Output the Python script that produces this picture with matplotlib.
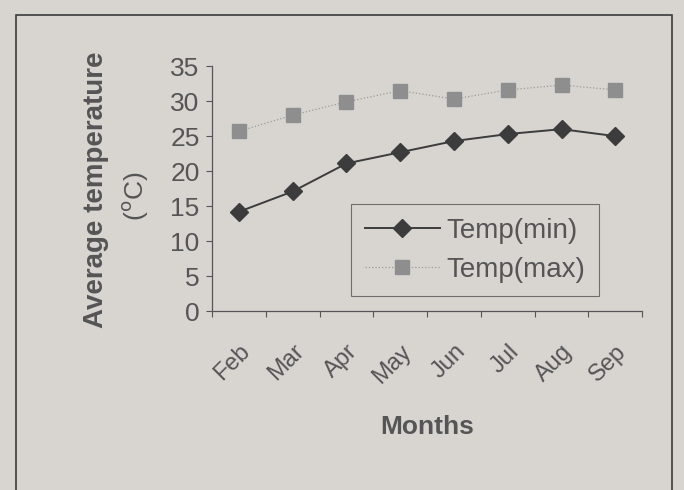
import matplotlib
matplotlib.use("Agg")
import matplotlib.pyplot as plt
from matplotlib.patches import Rectangle

plt.rcParams['font.family'] = ['Liberation Sans', 'DejaVu Sans']

months = ['Feb', 'Mar', 'Apr', 'May', 'Jun', 'Jul', 'Aug', 'Sep']
temp_min = [14.2, 17.1, 21.1, 22.7, 24.3, 25.3, 26.0, 25.0]
temp_max = [25.7, 28.0, 29.9, 31.5, 30.3, 31.6, 32.3, 31.6]

bg = '#d8d5d1'
txt = '#555555'
fig = plt.figure(figsize=(6.84, 4.90), dpi=100, facecolor=bg)
ax = fig.add_axes([0.31, 0.365, 0.629, 0.5])
ax.set_facecolor(bg)

# outer chart frame like the printed figure
fig.patches.append(Rectangle((0.023, -0.05), 0.96, 1.02, transform=fig.transFigure,
                             fill=False, edgecolor='#3a3a3a', linewidth=1.2))

x = list(range(len(months)))
ax.plot(x, temp_min, color='#3c3c3c', linewidth=1.4, marker='D', markersize=9,
        markerfacecolor='#3c3c3c', markeredgecolor='#3c3c3c', label='Temp(min)')
ax.plot(x, temp_max, color='#9a9a9a', linewidth=0.9, linestyle=':', marker='s', markersize=10,
        markerfacecolor='#8e8e8e', markeredgecolor='#8e8e8e', label='Temp(max)')

ax.set_xlim(-0.5, len(months) - 0.5)
ax.set_ylim(0, 35)
ax.set_yticks(range(0, 36, 5))

# category axis: ticks between categories, labels at centres
ax.set_xticks([i - 0.5 for i in range(len(months) + 1)])
ax.set_xticklabels([])
ax.set_xticks(x, minor=True)
ax.set_xticklabels(months, minor=True, rotation=45, ha='right', rotation_mode='anchor',
                   fontsize=17, color=txt)
ax.tick_params(axis='x', which='minor', length=0, pad=21)
ax.tick_params(axis='x', which='major', length=4, color=txt, direction='out')
ax.tick_params(axis='y', labelsize=19, colors=txt, length=4, pad=5)

for s in ['top', 'right']:
    ax.spines[s].set_visible(False)
for s in ['left', 'bottom']:
    ax.spines[s].set_color(txt)
    ax.spines[s].set_linewidth(0.9)

ax.set_xlabel('Months', fontsize=19, fontweight='bold', color=txt, labelpad=20)
fig.text(0.14, 0.612, 'Average temperature', rotation=90, ha='center', va='center',
         fontsize=20, fontweight='bold', color=txt)
fig.text(0.198, 0.60, '($^{\\mathrm{o}}$C)', rotation=90, ha='center', va='center',
         fontsize=19, color=txt)

leg = ax.legend(loc='lower right', bbox_to_anchor=(0.9, 0.06), fontsize=20, frameon=True,
                fancybox=False, edgecolor=txt, facecolor=bg, handlelength=2.7,
                borderpad=0.5, labelspacing=0.45, handletextpad=0.25, borderaxespad=0)
leg.get_frame().set_linewidth(0.8)
for t in leg.get_texts():
    t.set_color(txt)

fig.savefig('out.png', dpi=100, facecolor=bg)
